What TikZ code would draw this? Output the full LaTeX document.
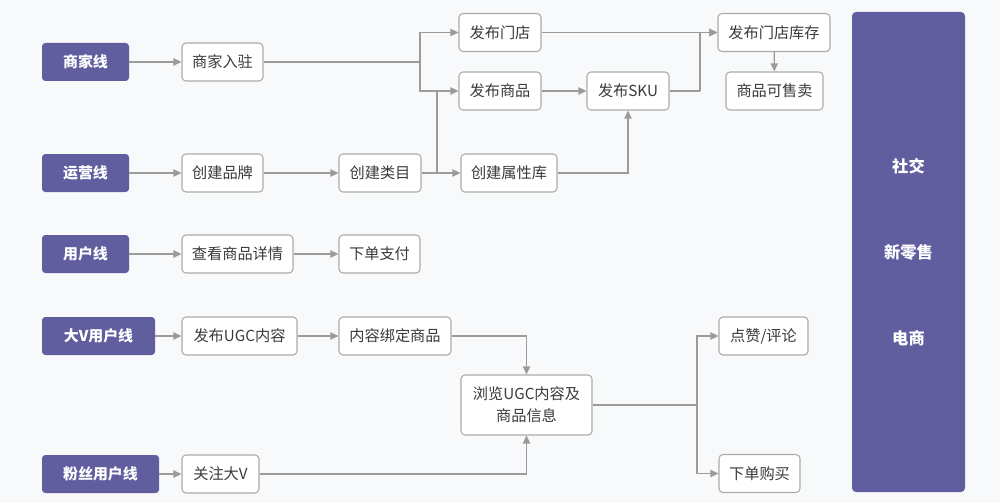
\documentclass[tikz,border=0pt]{standalone}
\usepackage{fontspec}
\setmainfont{Noto Sans CJK SC}
\usetikzlibrary{arrows.meta}

\definecolor{lanepurple}{HTML}{605E9F}
\definecolor{linegray}{HTML}{9B9B9B}
\definecolor{boxgray}{HTML}{ABABAB}
\definecolor{bggray}{HTML}{F8F9FB}
\definecolor{textgray}{HTML}{3A3A3A}

\begin{document}
\begin{tikzpicture}[x=0.75pt,y=-0.75pt]
\tikzset{
  lane/.style={rectangle,rounded corners=2.5pt,fill=lanepurple,text=white,font=\fontsize{11.2}{13}\selectfont\bfseries,minimum height=28.5pt,inner sep=1pt},
  stepbox/.style={rectangle,rounded corners=3pt,draw=boxgray,line width=0.8pt,fill=white,text=textgray,font=\fontsize{11.4}{16.5}\selectfont,minimum height=28.5pt,inner sep=1pt,align=center},
  flow/.style={-{Triangle[length=6pt,width=5.5pt]},draw=linegray,line width=0.9pt},
  plain/.style={draw=linegray,line width=0.9pt}
}
\fill[bggray] (0,0) rectangle (1000,503);
% lanes
\node[lane,minimum width=65.25pt] (n_merchant) at (85.5,62) {商家线};
\node[lane,minimum width=65.25pt] (n_ops) at (85.5,173) {运营线};
\node[lane,minimum width=65.25pt] (n_user) at (85.5,254) {用户线};
\node[lane,minimum width=84.75pt] (n_kol) at (98.5,336) {大V用户线};
\node[lane,minimum width=87.75pt] (n_fans) at (100.5,474) {粉丝用户线};
% steps
\node[stepbox,minimum width=60.75pt] (n_settle) at (222.5,62) {商家入驻};
\node[stepbox,minimum width=60.75pt] (n_brand) at (222.5,173) {创建品牌};
\node[stepbox,minimum width=83.25pt] (n_detail) at (237.5,254) {查看商品详情};
\node[stepbox,minimum width=86.25pt] (n_ugc) at (239.5,336) {发布UGC内容};
\node[stepbox,minimum width=57.75pt] (n_follow) at (220.5,474) {关注大V};
\node[stepbox,minimum width=61.5pt] (n_category) at (380,173) {创建类目};
\node[stepbox,minimum width=60.75pt] (n_pay) at (379.5,254) {下单支付};
\node[stepbox,minimum width=84pt] (n_bind) at (395,336) {内容绑定商品};
\node[stepbox,minimum width=61.5pt] (n_store) at (500,32.5) {发布门店};
\node[stepbox,minimum width=61.5pt] (n_goods) at (500,91) {发布商品};
\node[stepbox,minimum width=72pt] (n_attr) at (509,173) {创建属性库};
\node[stepbox,minimum width=61.5pt] (n_sku) at (628,91) {发布SKU};
\node[stepbox,minimum width=84pt] (n_stock) at (774,32.5) {发布门店库存};
\node[stepbox,minimum width=72.75pt] (n_sale) at (774.5,91) {商品可售卖};
\node[stepbox,minimum width=98.25pt,minimum height=45pt] (n_browse) at (526.5,405) {浏览UGC内容及\\商品信息};
\node[stepbox,minimum width=66.75pt] (n_like) at (763.5,336) {点赞/评论};
\node[stepbox,minimum width=60.75pt] (n_buy) at (759.5,473.5) {下单购买};
% scenes
\node[lane,rounded corners=3pt,minimum width=84.75pt,minimum height=360pt] (n_scene) at (908.5,252) {};
\node[text=white,font=\fontsize{12.2}{14}\selectfont\bfseries] (n_social) at (908.5,166) {社交};
\node[text=white,font=\fontsize{12.2}{14}\selectfont\bfseries] (n_retail) at (908.5,252) {新零售};
\node[text=white,font=\fontsize{12.2}{14}\selectfont\bfseries] (n_ecom) at (908.5,338) {电商};
% junctions
\coordinate (j_settle) at (420,62);
\coordinate (j_category) at (437,173);
\coordinate (j_sku) at (700,91);
\coordinate (j_browse) at (697,405);
% connectors
\draw[flow] (n_merchant) -- (n_settle);
\draw[flow] (n_ops) -- (n_brand);
\draw[flow] (n_user) -- (n_detail);
\draw[flow] (n_kol) -- (n_ugc);
\draw[flow] (n_fans) -- (n_follow);
\draw[flow] (n_brand) -- (n_category);
\draw[flow] (n_detail) -- (n_pay);
\draw[flow] (n_ugc) -- (n_bind);
\draw[plain] (n_settle) -- (j_settle);
\draw[flow] (j_settle) |- (n_store);
\draw[flow] (j_settle) |- (n_goods);
\draw[flow] (n_category) -- (n_attr);
\draw[plain] (j_category) -- (j_category |- n_goods);
\draw[flow] (n_goods) -- (n_sku);
\draw[flow] (n_attr) -| (n_sku);
\draw[flow] (n_store) -- (n_stock);
\draw[plain] (n_sku) -- (j_sku);
\draw[flow] (j_sku) |- (n_stock);
\draw[flow] (n_stock) -- (n_sale);
\draw[flow] (n_bind) -| (n_browse);
\draw[flow] (n_follow) -| (n_browse);
\draw[plain] (n_browse) -- (j_browse);
\draw[flow] (j_browse) |- (n_like);
\draw[flow] (j_browse) |- (n_buy);
\end{tikzpicture}
\end{document}
